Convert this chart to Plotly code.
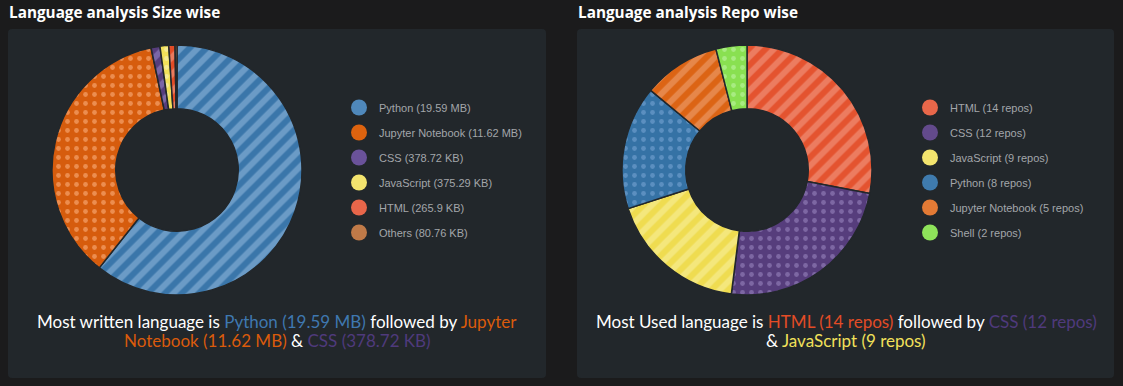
import plotly.graph_objects as go

# ---- data ----
size_langs = ["Python", "Jupyter Notebook", "CSS", "JavaScript", "HTML", "Others"]
size_kb = [20060.16, 11898.88, 378.72, 375.29, 265.9, 80.76]
size_text = ["19.59 MB", "11.62 MB", "378.72 KB", "375.29 KB", "265.9 KB", "80.76 KB"]

repo_langs = ["HTML", "CSS", "JavaScript", "Python", "Jupyter Notebook", "Shell"]
repo_counts = [14, 12, 9, 8, 5, 2]

# ---- styles ----
PAGE = "#1b1b1c"
PANEL = "#22272b"
LEG_TXT = "#a3a6aa"

size_bg = ["#6b9bc6", "#d65c0d", "#7a66a6", "#f1e05a", "#eb7b5e", "#c98451"]
size_fg = ["#3a76aa", "#ec8d4f", "#563d7c", "#f6eb92", "#e34c26", "#b06a34"]
size_shape = ["/", ".", "/", ".", "/", "/"]
size_leg = ["#4f88bb", "#dd630f", "#6a529a", "#f3e46e", "#e8664a", "#c07a48"]

repo_bg = ["#ec7c60", "#563d7c", "#f4e77c", "#3572a5", "#e6874a", "#89e051"]
repo_fg = ["#e4532f", "#7d67a3", "#efdc50", "#5b8fc0", "#dc6414", "#a8ec82"]
repo_shape = ["/", ".", "/", ".", "/", "."]
repo_leg = ["#e8674a", "#634a8c", "#f3e46e", "#3f7bae", "#e37a35", "#8ee35a"]

W, H = 1123, 386


def px_x(v):
    return v / W


def px_y(v):
    return 1 - v / H


def pattern_sizes(shapes_):
    return [12 if s == "/" else 9 for s in shapes_]


def pattern_solid(shapes_):
    return [0.5 if s == "/" else 0.22 for s in shapes_]


fig = go.Figure()

fig.add_trace(go.Pie(
    labels=size_langs, values=size_kb, sort=False, direction="clockwise", rotation=0,
    hole=0.49, textinfo="none", hoverinfo="label+percent", showlegend=False,
    marker=dict(colors=size_bg, line=dict(color=PANEL, width=1.5),
                pattern=dict(shape=size_shape, bgcolor=size_bg, fgcolor=size_fg,
                             fillmode="replace", size=pattern_sizes(size_shape),
                             solidity=pattern_solid(size_shape))),
    domain=dict(x=[px_x(52), px_x(302)], y=[px_y(295), px_y(45)]),
))

fig.add_trace(go.Pie(
    labels=repo_langs, values=repo_counts, sort=False, direction="clockwise", rotation=0,
    hole=0.49, textinfo="none", hoverinfo="label+value", showlegend=False,
    marker=dict(colors=repo_bg, line=dict(color=PANEL, width=1.5),
                pattern=dict(shape=repo_shape, bgcolor=repo_bg, fgcolor=repo_fg,
                             fillmode="replace", size=pattern_sizes(repo_shape),
                             solidity=pattern_solid(repo_shape))),
    domain=dict(x=[px_x(622), px_x(872)], y=[px_y(295), px_y(45)]),
))

for i, (lang, txt) in enumerate(zip(size_langs, size_text)):
    fig.add_trace(go.Scatter(
        x=[None], y=[None], mode="markers", name=f"{lang} ({txt})",
        marker=dict(symbol="circle", size=16, color=size_leg[i]),
        legend="legend", legendgroup=f"s{i}", showlegend=True,
    ))

for i, (lang, n) in enumerate(zip(repo_langs, repo_counts)):
    fig.add_trace(go.Scatter(
        x=[None], y=[None], mode="markers", name=f"{lang} ({n} repos)",
        marker=dict(symbol="circle", size=16, color=repo_leg[i]),
        legend="legend2", legendgroup=f"r{i}", showlegend=True,
    ))

leg_common = dict(bgcolor="rgba(0,0,0,0)", font=dict(family="Liberation Sans, Arial", size=11, color=LEG_TXT),
                  xanchor="left", yanchor="top", tracegroupgap=6, itemsizing="trace",
                  traceorder="grouped")


def panel_path(x0, y0, x1, y1, r=4):
    return (f"M{x0 + r},{y0} L{x1 - r},{y0} Q{x1},{y0} {x1},{y0 + r} L{x1},{y1 - r} "
            f"Q{x1},{y1} {x1 - r},{y1} L{x0 + r},{y1} Q{x0},{y1} {x0},{y1 - r} "
            f"L{x0},{y0 + r} Q{x0},{y0} {x0 + r},{y0} Z")


shapes = [
    dict(type="path", xref="x", yref="y", path=panel_path(8, 29, 546, 378),
         fillcolor=PANEL, line=dict(width=0), layer="below"),
    dict(type="path", xref="x", yref="y", path=panel_path(577, 29, 1114, 378),
         fillcolor=PANEL, line=dict(width=0), layer="below"),
]

TXT_FONT = "Lato, Open Sans, sans-serif"
TITLE_FONT = dict(family="Open Sans, sans-serif", size=15.3, color="#ffffff")
BODY_FONT = dict(family=TXT_FONT, size=17, color="#ffffff")


def ann(text, x, y, anchor, font):
    return dict(text=text, x=px_x(x), y=px_y(y), xref="paper", yref="paper",
                xanchor=anchor, yanchor="middle", showarrow=False, align="center", font=font)


annotations = [
    ann("<b>Language analysis Size wise</b>", 7, 12, "left", TITLE_FONT),
    ann("<b>Language analysis Repo wise</b>", 576, 12, "left", TITLE_FONT),
    ann(f"Most written language is <span style='color:#3f78b0'>{size_langs[0]} ({size_text[0]})</span>"
        f" followed by <span style='color:#da5b0b'>Jupyter</span>", 277, 321, "center", BODY_FONT),
    ann(f"<span style='color:#da5b0b'>Notebook ({size_text[1]})</span> &amp; "
        f"<span style='color:#4f3a7c'>{size_langs[2]} ({size_text[2]})</span>", 277, 340, "center", BODY_FONT),
    ann(f"Most Used language is <span style='color:#e34c26'>{repo_langs[0]} ({repo_counts[0]} repos)</span>"
        f" followed by <span style='color:#4f3a7c'>{repo_langs[1]} ({repo_counts[1]} repos)</span>",
        846, 321, "center", BODY_FONT),
    ann(f"&amp; <span style='color:#f1e05a'>{repo_langs[2]} ({repo_counts[2]} repos)</span>",
        846, 340, "center", BODY_FONT),
]

fig.update_layout(
    width=W, height=H, margin=dict(l=0, r=0, t=0, b=0),
    paper_bgcolor=PAGE, plot_bgcolor="rgba(0,0,0,0)",
    xaxis=dict(visible=False, range=[0, W], fixedrange=True),
    yaxis=dict(visible=False, range=[H, 0], fixedrange=True),
    shapes=shapes, annotations=annotations,
    legend=dict(x=px_x(339), y=px_y(93), **leg_common),
    legend2=dict(x=px_x(910), y=px_y(93), **leg_common),
    showlegend=True,
)

fig.write_html("out.html", config={"displayModeBar": False},
               post_script="document.body.style.margin='0';document.body.style.background='%s';" % PAGE)
